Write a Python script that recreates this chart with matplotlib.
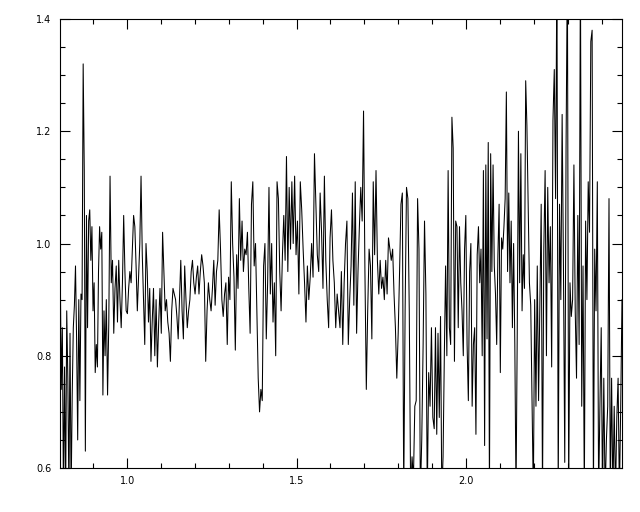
import numpy as np
import matplotlib
matplotlib.use("Agg")
import matplotlib.pyplot as plt

# wavelength boundaries of the sampled segments
edges = [0.796, 0.935, 1.074, 1.212, 1.351, 1.490, 1.628, 1.767, 1.906, 2.044, 2.183, 2.322, 2.460]

seg1 = [0.83, 0.55, 0.977, 0.74, 0.85, 0.55, 0.78, 0.55, 0.88, 0.76, 0.55, 0.84, 0.55, 0.73, 0.85, 0.89,
        0.96, 0.83, 0.65, 0.90, 0.72, 0.91, 0.90, 1.32, 1.13, 0.63, 1.05, 0.85, 1.04, 1.06, 0.97, 1.03,
        0.88, 0.93, 0.77, 0.82, 0.78, 0.95, 1.03, 0.99, 1.02, 0.73, 0.88]
seg2 = [0.80, 0.90, 0.73, 0.86, 1.12, 0.93, 0.97, 0.84, 0.92, 0.96, 0.86, 0.97, 0.90, 0.85, 0.93, 1.05,
        0.95, 0.88, 0.875, 0.92, 0.95, 0.93, 0.99, 1.05, 1.03, 0.96, 0.88, 0.94, 1.00, 1.12, 0.98, 0.90,
        0.82, 1.00, 0.95, 0.86, 0.92, 0.79]
seg3 = [0.86, 0.92, 0.80, 0.90, 0.78, 0.86, 0.92, 0.84, 1.02, 0.95, 0.88, 0.90, 0.86, 0.84, 0.79, 0.88,
        0.92, 0.91, 0.90, 0.87, 0.83, 0.90, 0.97, 0.88, 0.83, 0.96, 0.90, 0.85, 0.88, 0.90, 0.95, 0.97,
        0.93, 0.91, 0.94, 0.96]
seg4 = [0.91, 0.95, 0.98, 0.96, 0.93, 0.79, 0.88, 0.93, 0.90, 0.88, 0.92, 0.97, 0.89, 0.95, 0.97, 1.06,
        0.99, 0.90, 0.87, 0.91, 0.93, 0.82, 0.94, 0.90, 1.11, 1.00, 0.94, 0.81, 0.98, 0.92, 1.08, 0.97,
        1.04, 0.95, 0.99]
seg5 = [0.98, 1.02, 0.92, 0.84, 1.07, 1.11, 0.96, 1.00, 0.88, 0.76, 0.70, 0.74, 0.72, 0.96, 1.00, 0.83,
        0.93, 1.10, 0.91, 1.00, 0.86, 0.93, 0.80, 1.11, 1.08, 0.95, 0.88, 0.98, 1.05, 0.97, 1.155, 0.95,
        1.10, 0.99, 1.11]
seg6 = [1.00, 1.12, 0.98, 1.04, 0.91, 1.11, 1.06, 0.99, 0.93, 0.86, 0.96, 0.90, 0.94, 1.00, 0.94, 1.16,
        1.07, 0.98, 0.95, 1.09, 1.02, 0.92, 1.12, 0.97, 0.90, 0.85, 1.01, 1.06, 0.97, 0.93, 0.85, 0.91,
        0.88]
seg7 = [0.85, 0.95, 0.82, 0.93, 1.00, 1.04, 0.82, 0.90, 0.96, 1.09, 0.89, 1.11, 0.84, 0.95, 1.03, 1.10,
        1.04, 1.236, 0.95, 0.74, 0.88, 0.99, 0.96, 0.83, 1.11, 0.98, 1.13, 0.97, 0.91, 0.97, 0.92, 0.94,
        0.90, 0.97]
seg8 = [0.91, 1.01, 0.99, 0.97, 0.99, 0.91, 0.85, 0.76, 0.84, 0.95, 1.07, 1.09, 0.55, 0.88, 1.10, 1.08,
        0.88, 0.55, 0.62, 0.58, 0.71, 0.72, 1.08, 0.99, 0.55, 0.65, 0.82, 1.04, 0.91, 0.55, 0.77, 0.71,
        0.85, 0.69]
seg9 = [0.67, 0.85, 0.66, 0.84, 0.69, 0.87, 0.55, 0.62, 0.80, 0.96, 0.80, 1.13, 0.85, 0.82, 1.225, 1.17,
        0.79, 1.04, 1.03, 0.85, 1.03, 0.93, 0.88, 0.80, 0.99, 1.05, 0.82, 0.72, 0.95, 1.00, 0.71, 0.82,
        0.85, 0.66, 0.98, 1.03, 0.93]
seg10 = [0.99, 0.80, 1.13, 0.64, 1.14, 0.83, 1.18, 0.55, 1.16, 0.95, 1.14, 0.96, 0.91, 0.82, 0.98, 1.07,
         0.77, 1.01, 0.99, 1.03, 1.08, 1.27, 0.95, 1.09, 0.93, 1.04, 0.85, 1.00, 0.82, 0.55, 0.84, 1.20,
         0.93, 1.16, 0.88, 0.98, 0.92, 1.29, 1.21]
seg11 = [1.08, 0.93, 0.89, 0.72, 0.55, 0.90, 0.71, 0.96, 0.72, 0.89, 1.07, 0.55, 0.99, 1.13, 0.80, 1.10,
         0.93, 1.03, 0.78, 1.22, 1.31, 1.08, 1.50, 0.55, 1.07, 0.90, 1.23, 0.96, 0.61, 1.17, 1.50, 0.55,
         0.93, 0.87, 0.90, 1.14]
seg12 = [0.88, 0.76, 1.05, 0.82, 1.50, 0.71, 0.96, 0.55, 1.04, 0.90, 1.11, 1.02, 1.36, 1.38, 0.55, 0.99,
         0.88, 1.11, 0.55, 0.71, 0.85, 0.55, 0.76, 0.55, 0.65, 0.71, 1.08, 0.55, 0.76, 0.55, 0.71, 0.55,
         0.69, 0.76, 0.55, 0.71, 0.90]

segments = [seg1, seg2, seg3, seg4, seg5, seg6, seg7, seg8, seg9, seg10, seg11, seg12]

xs, ys = [], []
for i, seg in enumerate(segments):
    last = (i == len(segments) - 1)
    xs.append(np.linspace(edges[i], edges[i + 1], len(seg), endpoint=last))
    ys.append(np.array(seg))
x = np.concatenate(xs)
y = np.concatenate(ys)

fig = plt.figure(figsize=(6.4, 5.12), dpi=100)
ax = fig.add_axes([60 / 640, 1 - 468 / 512, 562 / 640, 449 / 512])
ax.plot(x, y, color="black", lw=0.75)
ax.set_xlim(0.802, 2.46)
ax.set_ylim(0.6, 1.4)

ax.set_xticks([1.0, 1.5, 2.0])
ax.set_xticks(np.arange(0.9, 2.45, 0.1), minor=True)
ax.set_yticks([0.6, 0.8, 1.0, 1.2, 1.4])
ax.set_yticks(np.arange(0.6, 1.41, 0.05), minor=True)
ax.set_xticklabels(["1.0", "1.5", "2.0"])
ax.set_yticklabels(["0.6", "0.8", "1.0", "1.2", "1.4"])
ax.tick_params(which="both", direction="in", top=True, right=True, labelsize=7, width=0.8)
ax.tick_params(which="major", length=7, pad=6)
ax.tick_params(which="minor", length=3.6)
for s in ax.spines.values():
    s.set_linewidth(0.8)

fig.savefig("out.png", dpi=100, facecolor="white")
